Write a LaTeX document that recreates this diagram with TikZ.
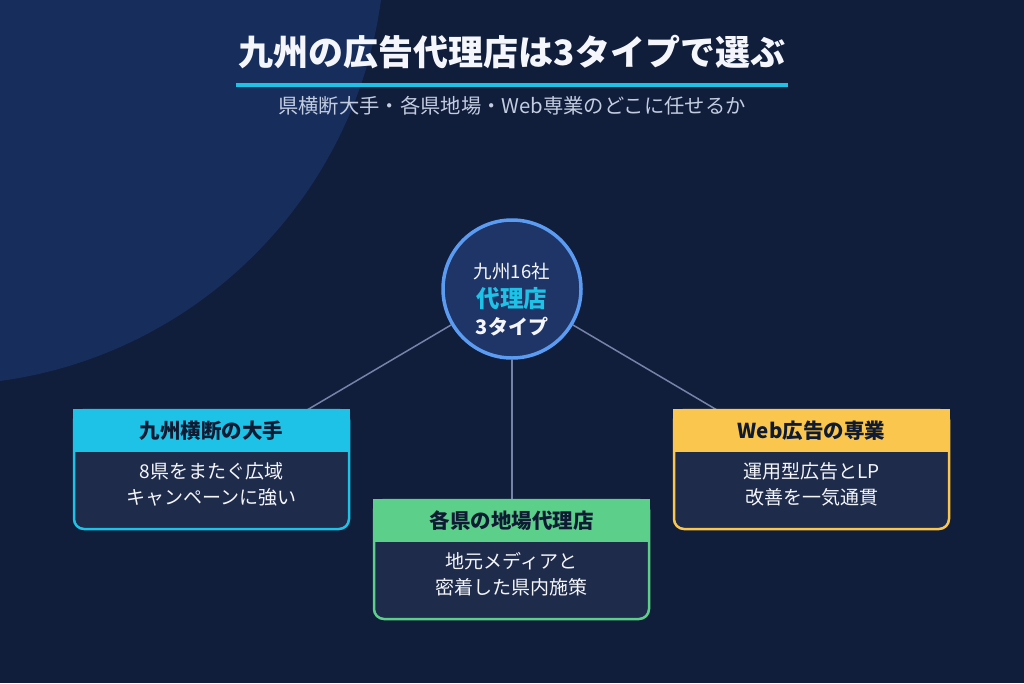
\documentclass[tikz,border=0pt]{standalone}
\usepackage{fontspec}
\setmainfont{Noto Sans CJK JP}
\definecolor{bg}{HTML}{101D3B}
\definecolor{blob}{HTML}{172D5C}
\definecolor{cyanc}{HTML}{1EC2E6}
\definecolor{greenc}{HTML}{5CCF8B}
\definecolor{yellowc}{HTML}{FBC64E}
\definecolor{bodyfill}{HTML}{1E2B4B}
\definecolor{hubfill}{HTML}{1F3567}
\definecolor{hubline}{HTML}{5B9BF2}
\definecolor{linkc}{HTML}{7683A8}
\definecolor{subc}{HTML}{C3CDE0}
\definecolor{headtext}{HTML}{0F1A33}
\definecolor{titlec}{HTML}{F4F6FB}
\begin{document}
\begin{tikzpicture}[x=1pt,y=-1pt,
  hubstyle/.style={circle, draw=hubline, line width=3.5pt, fill=hubfill, minimum size=138pt, inner sep=0pt},
  link/.style={draw=linkc, line width=1.5pt},
  boxbody/.style={rectangle, rounded corners=10pt, fill=bodyfill, line width=2.5pt, minimum width=275pt, minimum height=119pt, inner sep=0pt},
  boxhead/.style={rectangle, line width=2.5pt, minimum width=275pt, minimum height=41pt, inner sep=0pt, text=headtext, font=\bfseries\fontsize{20.5pt}{23pt}\selectfont},
  bodytext/.style={text=titlec, align=center, font=\fontsize{19pt}{26pt}\selectfont},
]
\useasboundingbox (0,0) rectangle (1024,683);
\fill[bg] (0,0) rectangle (1024,683);
\begin{scope}
\clip (0,0) rectangle (1024,683);
\fill[blob] (-60,-60) circle (445);
\end{scope}
% title
\node[text=titlec, font=\bfseries\fontsize{35pt}{40pt}\selectfont] (title) at (512,52) {九州の広告代理店は3タイプで選ぶ};
\coordinate (ulL) at (236,85);
\coordinate (ulR) at (788,85);
\draw[cyanc, line width=3.5pt] (ulL) -- (ulR);
\node[text=subc, font=\fontsize{20.3pt}{23pt}\selectfont] (sub) at (512,106) {県横断大手・各県地場・Web専業のどこに任せるか};
% hub
\node[hubstyle] (hub) at (512,289) {};
\node[text=titlec, font=\fontsize{18.5pt}{21pt}\selectfont] (hub1) at (512,271) {九州16社};
\node[text=cyanc, font=\bfseries\fontsize{23.5pt}{25pt}\selectfont] (hub2) at (512,299) {代理店};
\node[text=titlec, font=\bfseries\fontsize{20pt}{22pt}\selectfont] (hub3) at (512,327) {3タイプ};
% connectors
\coordinate (lt) at (307,410);
\coordinate (mt) at (512,500);
\coordinate (rt) at (717,410);
\draw[link] (hub) -- (lt);
\draw[link] (hub) -- (mt);
\draw[link] (hub) -- (rt);
% left box
\node[boxbody, draw=cyanc] (lbox) at (211.5,469.5) {};
\node[boxhead, fill=cyanc, draw=cyanc] (lhead) at (211.5,430.5) {九州横断の大手};
\node[bodytext] (ltext) at (211.5,484.5) {8県をまたぐ広域\\キャンペーンに強い};
% middle box
\node[boxbody, draw=greenc] (mbox) at (511.5,559.5) {};
\node[boxhead, fill=greenc, draw=greenc] (mhead) at (511.5,520.5) {各県の地場代理店};
\node[bodytext] (mtext) at (511.5,574) {地元メディアと\\密着した県内施策};
% right box
\node[boxbody, draw=yellowc] (rbox) at (811.5,469.5) {};
\node[boxhead, fill=yellowc, draw=yellowc] (rhead) at (811.5,430.5) {Web広告の専業};
\node[bodytext] (rtext) at (811.5,484.5) {運用型広告とLP\\改善を一気通貫};
\end{tikzpicture}
\end{document}
